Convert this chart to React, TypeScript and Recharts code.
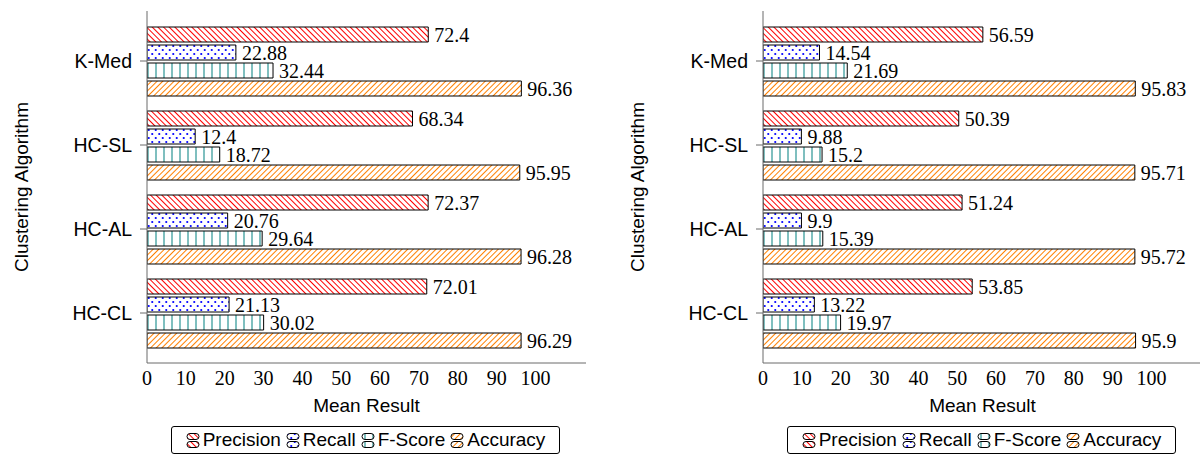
import { Bar, BarChart, LabelList, XAxis, YAxis } from "recharts";

const algorithms = ["K-Med", "HC-SL", "HC-AL", "HC-CL"];
const xTicks = [0, 10, 20, 30, 40, 50, 60, 70, 80, 90, 100];

// left panel
const leftPrecision = [72.4, 68.34, 72.37, 72.01];
const leftRecall = [22.88, 12.4, 20.76, 21.13];
const leftFScore = [32.44, 18.72, 29.64, 30.02];
const leftAccuracy = [96.36, 95.95, 96.28, 96.29];

// right panel
const rightPrecision = [56.59, 50.39, 51.24, 53.85];
const rightRecall = [14.54, 9.88, 9.9, 13.22];
const rightFScore = [21.69, 15.2, 15.39, 19.97];
const rightAccuracy = [95.83, 95.71, 95.72, 95.9];

const series = [
  { key: "precision", name: "Precision", fill: "url(#hatchPrecision)" },
  { key: "recall", name: "Recall", fill: "url(#dotsRecall)" },
  { key: "fscore", name: "F-Score", fill: "url(#vlinesFScore)" },
  { key: "accuracy", name: "Accuracy", fill: "url(#hatchAccuracy)" },
];

const buildRows = (p: number[], r: number[], f: number[], a: number[]) =>
  algorithms.map((alg, i) => ({
    alg,
    precision: p[i],
    recall: r[i],
    fscore: f[i],
    accuracy: a[i],
  }));

const leftRows = buildRows(leftPrecision, leftRecall, leftFScore, leftAccuracy);
const rightRows = buildRows(rightPrecision, rightRecall, rightFScore, rightAccuracy);

const SANS = "'Liberation Sans', Arial, sans-serif";
const SERIF = "'Liberation Serif', 'Times New Roman', serif";
const FRAME = "#6b6b6b";
const DOMAIN: [number, number] = [0, 113];

function Patterns() {
  return (
    <svg width={0} height={0} style={{ position: "absolute" }}>
      <defs>
        <pattern
          id="hatchPrecision"
          patternUnits="userSpaceOnUse"
          width={4}
          height={4}
          patternTransform="rotate(-45)"
        >
          <rect width={4} height={4} fill="#ffffff" />
          <rect x={0} y={0} width={1} height={4} fill="#ff0000" />
        </pattern>
        <pattern id="dotsRecall" patternUnits="userSpaceOnUse" width={7} height={8}>
          <rect width={7} height={8} fill="#ffffff" />
          <circle cx={1.75} cy={2} r={1.1} fill="#0000ff" />
          <circle cx={5.25} cy={6} r={1.1} fill="#0000ff" />
        </pattern>
        <pattern id="vlinesFScore" patternUnits="userSpaceOnUse" width={8} height={8}>
          <rect width={8} height={8} fill="#ffffff" />
          <rect x={3.5} y={0} width={1} height={8} fill="#008080" />
        </pattern>
        <pattern
          id="hatchAccuracy"
          patternUnits="userSpaceOnUse"
          width={4}
          height={4}
          patternTransform="rotate(45)"
        >
          <rect width={4} height={4} fill="#ffffff" />
          <rect x={0} y={0} width={1} height={4} fill="#ff8000" />
        </pattern>
      </defs>
    </svg>
  );
}

function LegendBox({ left }: { left: number }) {
  return (
    <div
      style={{
        position: "absolute",
        left,
        top: 426,
        width: 389,
        height: 28,
        boxSizing: "border-box",
        border: "1px solid #000",
        borderRadius: 3,
        display: "flex",
        alignItems: "center",
        justifyContent: "center",
        gap: 5,
        fontFamily: SANS,
        fontSize: 19,
        color: "#000",
        background: "#fff",
      }}
    >
      {series.map((s) => (
        <div key={s.key} style={{ display: "flex", alignItems: "center" }}>
          <svg width={14} height={17} style={{ marginRight: 3 }}>
            <rect x={1} y={1.5} width={12} height={6} rx={3} fill={s.fill} stroke="#000" strokeWidth={1} />
            <rect x={1} y={9.5} width={12} height={6} rx={3} fill={s.fill} stroke="#000" strokeWidth={1} />
          </svg>
          <span>{s.name}</span>
        </div>
      ))}
    </div>
  );
}

function ResultChart({ data }: { data: typeof leftRows }) {
  return (
    <BarChart
      width={616}
      height={456}
      data={data}
      layout="vertical"
      margin={{ top: 11, right: 30, left: 0, bottom: 0 }}
      barSize={15}
      barGap={3}
    >
      <XAxis
        type="number"
        domain={DOMAIN}
        ticks={xTicks}
        allowDataOverflow
        height={93}
        tickLine={false}
        tickSize={0}
        tickMargin={8}
        axisLine={{ stroke: FRAME }}
        tick={{ fontFamily: SERIF, fontSize: 20, fill: "#000" }}
        label={{
          content: (props: any) => {
            const vb = props.viewBox || {};
            return (
              <text
                x={vb.x + vb.width / 2}
                y={vb.y + 49}
                textAnchor="middle"
                fontFamily={SANS}
                fontSize={19}
                fill="#000"
              >
                Mean Result
              </text>
            );
          },
        }}
      />
      <XAxis
        xAxisId="bottomTicks"
        type="number"
        orientation="bottom"
        mirror
        height={0}
        domain={DOMAIN}
        ticks={xTicks}
        allowDataOverflow
        tick={false}
        tickSize={6}
        axisLine={false}
        tickLine={{ stroke: FRAME }}
      />
      <XAxis
        xAxisId="top"
        type="number"
        orientation="top"
        mirror
        height={0}
        domain={DOMAIN}
        ticks={xTicks}
        allowDataOverflow
        tick={false}
        tickSize={6}
        axisLine={{ stroke: FRAME }}
        tickLine={{ stroke: FRAME }}
      />
      <YAxis
        type="category"
        dataKey="alg"
        width={147}
        padding={{ top: 8, bottom: 8 }}
        tickSize={7}
        tickMargin={8}
        axisLine={{ stroke: FRAME }}
        tickLine={{ stroke: FRAME }}
        tick={{ fontFamily: SANS, fontSize: 19.5, fill: "#000" }}
        label={{
          content: (props: any) => {
            const vb = props.viewBox || {};
            const cy = vb.y + vb.height / 2;
            return (
              <text
                x={28}
                y={cy}
                transform={`rotate(-90, 28, ${cy})`}
                textAnchor="middle"
                fontFamily={SANS}
                fontSize={19}
                fill="#000"
              >
                Clustering Algorithm
              </text>
            );
          },
        }}
      />
      <YAxis
        yAxisId="right"
        type="category"
        dataKey="alg"
        orientation="right"
        width={0}
        padding={{ top: 8, bottom: 8 }}
        tick={false}
        tickSize={7}
        axisLine={{ stroke: FRAME }}
        tickLine={{ stroke: FRAME }}
      />
      {series.map((s) => (
        <Bar
          key={s.key}
          dataKey={s.key}
          name={s.name}
          fill={s.fill}
          stroke="#000"
          strokeWidth={1}
          isAnimationActive={false}
        >
          <LabelList
            dataKey={s.key}
            position="right"
            offset={6}
            fill="#000"
            fontFamily={SERIF}
            fontSize={20}
          />
        </Bar>
      ))}
    </BarChart>
  );
}

export default function App() {
  return (
    <div
      style={{
        position: "absolute",
        left: 0,
        top: 0,
        width: 1200,
        height: 456,
        overflow: "hidden",
        background: "#fff",
      }}
    >
      <Patterns />
      <div style={{ position: "absolute", left: 0, top: 0 }}>
        <ResultChart data={leftRows} />
      </div>
      <div style={{ position: "absolute", left: 616, top: 0 }}>
        <ResultChart data={rightRows} />
      </div>
      <LegendBox left={171} />
      <LegendBox left={787} />
    </div>
  );
}
